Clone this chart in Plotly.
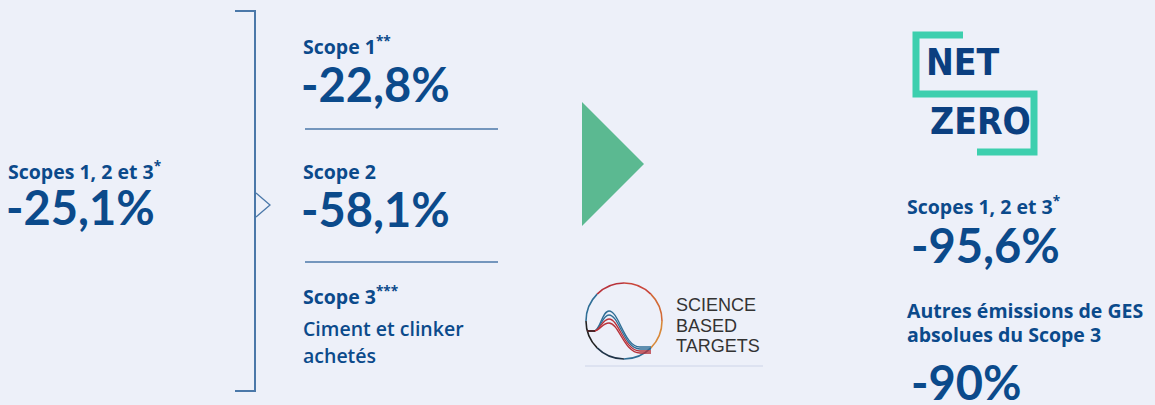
import math
import plotly.graph_objects as go

W, H = 1155, 405
BG = "#EDF0F9"
NAVY = "#0B4A8B"
LINE = "#4B78A9"
GREEN = "#5BB991"
TEAL = "#3DCFAE"

# ---- content (values) ----
left_label = "Scopes 1, 2 et 3<sup>*</sup>"
left_value = "-25,1%"

mid_labels = ["Scope 1<sup>**</sup>", "Scope 2", "Scope 3<sup>***</sup>"]
mid_values = ["-22,8%", "-58,1%"]
mid_sub = ["Ciment et clinker", "achetés"]

right_labels = ["Scopes 1, 2 et 3<sup>*</sup>", "Autres émissions de GES", "absolues du Scope 3"]
right_values = ["-95,6%", "-90%"]

sbt_words = ["SCIENCE", "BASED", "TARGETS"]
nz_words = ["NET", "ZERO"]

NUMF = "Lato, 'Open Sans', Arial, sans-serif"
LBLF = "'Open Sans', Lato, Arial, sans-serif"

fig = go.Figure()
ann = []

def text(x, y, s, size, color=NAVY, weight="bold", family=LBLF, xanchor="left"):
    ann.append(dict(x=x, y=y, xref="x", yref="y", text=s, showarrow=False,
                    xanchor=xanchor, yanchor="middle", align="left",
                    borderpad=0, borderwidth=0,
                    font=dict(family=family, size=size, color=color, weight=weight)))

LBL = 19.5
BIG = 47

# left block
text(8, 170, left_label, LBL)
text(6, 207, left_value, BIG, family=NUMF)

# middle block
text(303, 45, mid_labels[0], LBL)
text(301, 84, mid_values[0], BIG, family=NUMF)
text(303, 171, mid_labels[1], LBL)
text(301, 209, mid_values[1], BIG, family=NUMF)
text(303, 295, mid_labels[2], LBL)
text(303, 328, mid_sub[0], LBL, weight=600)
text(303, 355, mid_sub[1], LBL, weight=600)

# right block
text(907, 205, right_labels[0], LBL)
text(911, 245, right_values[0], BIG, family=NUMF)
text(907, 310, right_labels[1], LBL)
text(907, 334, right_labels[2], LBL)
text(911, 382, right_values[1], BIG, family=NUMF)

# SBT words
for i, w in enumerate(sbt_words):
    text(676, 305 + i * 20.5, w, 18, color="#333333", weight="normal",
         family="'Liberation Sans', Arial, sans-serif")

# NET ZERO words
NZF = "'Liberation Sans Narrow', 'DejaVu Sans Condensed', 'Arial Narrow', sans-serif"
text(926, 62, nz_words[0], 37, color="#0B3F80", weight="bold", family=NZF)
text(930, 121, nz_words[1], 37, color="#0B3F80", weight="bold", family=NZF)

shapes = []
def path(p, color, width=2, fill=None):
    d = dict(type="path", path=p, xref="x", yref="y",
             line=dict(color=color, width=width))
    if fill:
        d["fillcolor"] = fill
        d["line"] = dict(width=0)
    shapes.append(d)

def line(x0, y0, x1, y1, color, width):
    shapes.append(dict(type="line", x0=x0, y0=y0, x1=x1, y1=y1, xref="x", yref="y",
                       line=dict(color=color, width=width)))

# bracket
path("M 235 11 L 255 11 L 255 391 L 235 391", LINE, 2)
path("M 256 193 L 270 205 L 256 217", LINE, 1.3)
# separators
line(305, 129, 498, 129, LINE, 1.5)
line(305, 262, 498, 262, LINE, 1.5)

# green arrow
path("M 582 102 L 644 164 L 582 226 Z", GREEN, fill=GREEN)

# NET ZERO frame
path("M 963 35 L 916 35 L 916 94 L 1034 94 L 1034 152 L 977 152", TEAL, 7)

# SBT circle, colored octants via cubic beziers
cx, cy, r = 624, 321, 38
cols = ["#d26a36", "#c9453a", "#b8323a", "#2f6e96", "#222222", "#1f3347", "#2f6e96", "#d8893a"]
k = 4 / 3 * math.tan(math.radians(45) / 4)
for i, c in enumerate(cols):
    a0 = math.radians(-45 * i)
    a1 = math.radians(-45 * (i + 1))
    p0 = (cx + r * math.cos(a0), cy + r * math.sin(a0))
    p3 = (cx + r * math.cos(a1), cy + r * math.sin(a1))
    p1 = (p0[0] + k * r * math.sin(a0), p0[1] - k * r * math.cos(a0))
    p2 = (p3[0] - k * r * math.sin(a1), p3[1] + k * r * math.cos(a1))
    path(f"M {p0[0]:.2f} {p0[1]:.2f} C {p1[0]:.2f} {p1[1]:.2f} {p2[0]:.2f} {p2[1]:.2f} {p3[0]:.2f} {p3[1]:.2f}", c, 1.6)

# SBT inner curves
curves = [(311, 347, "#2f6e96"), (315, 349, "#2f6e96"), (319, 351, "#b8323a"), (323, 353, "#b8323a")]
for peak, end, c in curves:
    path(f"M 587 331 L 594 331 C 600 331 602 {peak} 609 {peak} C 619 {peak} 624 {end} 640 {end} L 651 {end}", c, 1.3)
path("M 587 331 L 595 331", "#222222", 1.4)
# underline
line(585, 366, 763, 366, "#CDD4E8", 1)

fig.update_layout(
    width=W, height=H, margin=dict(l=0, r=0, t=0, b=0),
    paper_bgcolor=BG, plot_bgcolor=BG,
    xaxis=dict(range=[0, W], visible=False, fixedrange=True),
    yaxis=dict(range=[H, 0], visible=False, fixedrange=True),
    annotations=ann, shapes=shapes, showlegend=False,
)
fig.write_html("out.html", config={"displayModeBar": False},
               post_script="document.body.style.margin='0';document.body.style.background='%s';" % BG)
